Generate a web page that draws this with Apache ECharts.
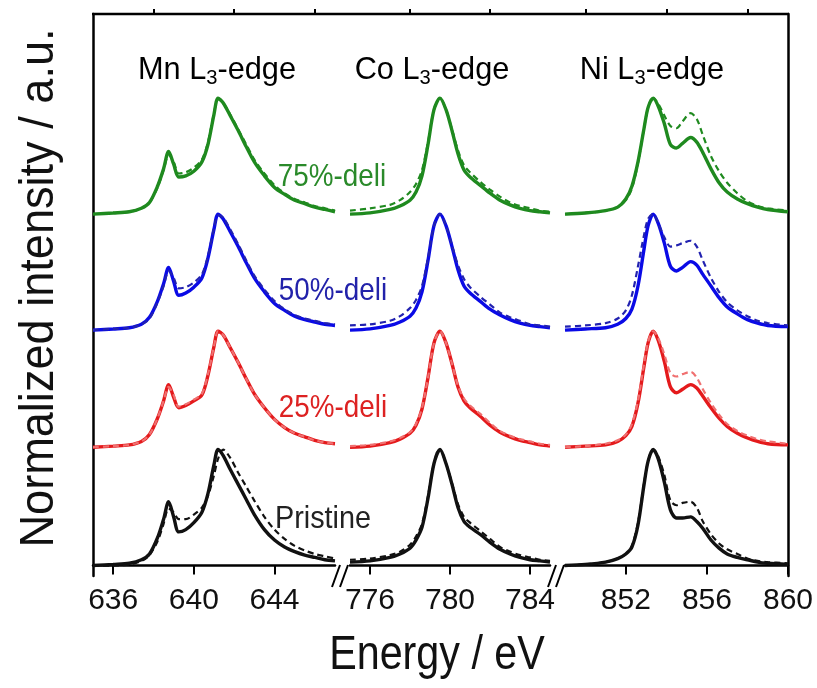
<!DOCTYPE html>
<html>
<head>
<meta charset="utf-8">
<script src="https://cdn.jsdelivr.net/npm/echarts@6/dist/echarts.min.js"></script>
<style>
  html, body { margin: 0; padding: 0; background: #fff; }
  #chart { width: 817px; height: 688px; }
</style>
</head>
<body>
<div id="chart"></div>
<script>
// energy grids (eV), one per edge
var mnEnergy = [635, 636, 636.8, 637.4, 637.8, 638.2, 638.5, 638.75, 639.0, 639.25, 639.6, 640.0, 640.4, 640.7, 641.0, 641.2, 641.45, 641.8, 642.2, 642.6, 643.0, 643.5, 644.0, 644.5, 645.0, 645.5, 646.0, 646.5, 647];
var coEnergy = [775, 776, 777, 777.5, 778, 778.3, 778.6, 778.9, 779.2, 779.5, 779.8, 780.1, 780.4, 780.7, 781.0, 781.5, 782, 782.5, 783, 783.5, 784, 784.5, 785];
var niEnergy = [849, 850, 851, 851.6, 852, 852.3, 852.6, 852.9, 853.1, 853.35, 853.6, 853.9, 854.2, 854.5, 854.8, 855.2, 855.5, 855.8, 856.2, 856.6, 857, 857.5, 858, 858.5, 859, 860];

// Mn L3-edge, normalized intensity (solid / dashed)
var mnPristine     = [0, 0.01, 0.02, 0.05, 0.10, 0.24, 0.40, 0.55, 0.42, 0.29, 0.31, 0.37, 0.46, 0.62, 0.87, 1.0, 0.95, 0.83, 0.70, 0.57, 0.44, 0.31, 0.22, 0.16, 0.12, 0.09, 0.07, 0.05, 0.04];
var mnPristineDash = [0, 0, 0.01, 0.04, 0.09, 0.21, 0.36, 0.49, 0.46, 0.40, 0.40, 0.44, 0.50, 0.60, 0.78, 0.92, 1.0, 0.93, 0.80, 0.68, 0.56, 0.42, 0.31, 0.23, 0.17, 0.13, 0.10, 0.08, 0.06];
var mn25           = [0, 0.01, 0.02, 0.05, 0.11, 0.25, 0.40, 0.54, 0.43, 0.34, 0.36, 0.40, 0.45, 0.62, 0.87, 1.0, 0.97, 0.86, 0.73, 0.59, 0.46, 0.34, 0.24, 0.17, 0.12, 0.09, 0.06, 0.04, 0.03];
var mn25Dash       = [0, 0.01, 0.02, 0.05, 0.11, 0.25, 0.40, 0.52, 0.45, 0.35, 0.37, 0.41, 0.46, 0.63, 0.87, 1.0, 0.97, 0.86, 0.73, 0.59, 0.46, 0.34, 0.24, 0.17, 0.12, 0.09, 0.06, 0.04, 0.03];
var mn50           = [0, 0.01, 0.02, 0.05, 0.11, 0.25, 0.40, 0.54, 0.42, 0.30, 0.32, 0.37, 0.45, 0.62, 0.87, 1.0, 0.96, 0.85, 0.72, 0.58, 0.45, 0.33, 0.23, 0.17, 0.12, 0.09, 0.07, 0.05, 0.04];
var mn50Dash       = [0, 0.01, 0.02, 0.05, 0.10, 0.24, 0.38, 0.51, 0.45, 0.36, 0.37, 0.41, 0.48, 0.64, 0.88, 0.99, 0.97, 0.87, 0.74, 0.60, 0.47, 0.35, 0.25, 0.18, 0.13, 0.10, 0.08, 0.06, 0.05];
var mn75           = [0, 0.01, 0.02, 0.05, 0.10, 0.24, 0.39, 0.54, 0.43, 0.32, 0.33, 0.37, 0.45, 0.60, 0.86, 1.0, 0.96, 0.85, 0.72, 0.58, 0.45, 0.33, 0.23, 0.17, 0.12, 0.09, 0.06, 0.04, 0.02];
var mn75Dash       = [0, 0.01, 0.02, 0.05, 0.10, 0.23, 0.38, 0.51, 0.45, 0.35, 0.36, 0.40, 0.47, 0.62, 0.87, 0.99, 0.96, 0.86, 0.73, 0.60, 0.47, 0.35, 0.25, 0.18, 0.13, 0.10, 0.07, 0.05, 0.03];

// Co L3-edge
var coPristine     = [0.03, 0.04, 0.07, 0.10, 0.15, 0.22, 0.33, 0.58, 0.88, 1.0, 0.88, 0.70, 0.50, 0.38, 0.33, 0.27, 0.20, 0.14, 0.10, 0.07, 0.05, 0.04, 0.03];
var coPristineDash = [0.05, 0.06, 0.09, 0.12, 0.18, 0.25, 0.36, 0.60, 0.88, 1.0, 0.88, 0.71, 0.53, 0.42, 0.37, 0.30, 0.23, 0.16, 0.12, 0.09, 0.07, 0.05, 0.04];
var co25           = [0.0, 0.01, 0.04, 0.07, 0.12, 0.19, 0.33, 0.60, 0.90, 1.0, 0.90, 0.72, 0.52, 0.40, 0.34, 0.27, 0.19, 0.13, 0.09, 0.06, 0.04, 0.02, 0.01];
var co25Dash       = [0.01, 0.02, 0.05, 0.08, 0.13, 0.20, 0.34, 0.60, 0.90, 1.0, 0.90, 0.72, 0.53, 0.42, 0.36, 0.29, 0.21, 0.14, 0.10, 0.07, 0.05, 0.03, 0.02];
var co50           = [0.0, 0.01, 0.04, 0.07, 0.12, 0.19, 0.33, 0.60, 0.90, 1.0, 0.90, 0.72, 0.52, 0.38, 0.32, 0.25, 0.18, 0.13, 0.09, 0.06, 0.04, 0.03, 0.02];
var co50Dash       = [0.04, 0.05, 0.08, 0.12, 0.19, 0.26, 0.38, 0.62, 0.90, 1.0, 0.90, 0.73, 0.56, 0.44, 0.37, 0.29, 0.22, 0.15, 0.11, 0.08, 0.05, 0.04, 0.03];
var co75           = [0.0, 0.01, 0.04, 0.07, 0.12, 0.19, 0.33, 0.60, 0.90, 1.0, 0.90, 0.72, 0.52, 0.38, 0.32, 0.25, 0.18, 0.12, 0.08, 0.05, 0.03, 0.02, 0.01];
var co75Dash       = [0.03, 0.05, 0.08, 0.12, 0.19, 0.26, 0.38, 0.62, 0.90, 1.0, 0.90, 0.73, 0.55, 0.42, 0.36, 0.28, 0.21, 0.15, 0.10, 0.07, 0.05, 0.03, 0.02];

// Ni L3-edge
var niPristine     = [0, 0.01, 0.03, 0.06, 0.10, 0.16, 0.35, 0.70, 0.90, 1.0, 0.92, 0.72, 0.48, 0.41, 0.41, 0.42, 0.38, 0.32, 0.22, 0.15, 0.10, 0.07, 0.05, 0.03, 0.02, 0.01];
var niPristineDash = [0, 0.01, 0.03, 0.06, 0.10, 0.17, 0.37, 0.71, 0.90, 1.0, 0.94, 0.78, 0.56, 0.52, 0.54, 0.55, 0.50, 0.38, 0.27, 0.19, 0.14, 0.10, 0.06, 0.04, 0.03, 0.02];
var ni25           = [0, 0.01, 0.02, 0.05, 0.10, 0.18, 0.38, 0.70, 0.90, 1.0, 0.92, 0.74, 0.52, 0.47, 0.50, 0.54, 0.51, 0.44, 0.34, 0.25, 0.18, 0.12, 0.08, 0.05, 0.03, 0.02];
var ni25Dash       = [0, 0.01, 0.03, 0.06, 0.11, 0.20, 0.40, 0.72, 0.91, 1.0, 0.94, 0.80, 0.64, 0.61, 0.63, 0.65, 0.60, 0.50, 0.38, 0.28, 0.20, 0.14, 0.10, 0.07, 0.05, 0.03];
var ni50           = [0, 0.01, 0.02, 0.05, 0.10, 0.18, 0.38, 0.70, 0.90, 1.0, 0.92, 0.75, 0.55, 0.51, 0.54, 0.59, 0.56, 0.48, 0.38, 0.28, 0.20, 0.14, 0.09, 0.06, 0.04, 0.03];
var ni50Dash       = [0.03, 0.04, 0.06, 0.10, 0.17, 0.30, 0.55, 0.82, 0.96, 1.0, 0.92, 0.80, 0.72, 0.73, 0.75, 0.77, 0.72, 0.60, 0.45, 0.33, 0.24, 0.17, 0.12, 0.08, 0.06, 0.04];
var ni75           = [0, 0.01, 0.03, 0.06, 0.13, 0.24, 0.45, 0.74, 0.92, 1.0, 0.93, 0.78, 0.60, 0.57, 0.61, 0.66, 0.62, 0.53, 0.39, 0.27, 0.19, 0.13, 0.09, 0.06, 0.04, 0.02];
var ni75Dash       = [0, 0.01, 0.03, 0.06, 0.12, 0.22, 0.44, 0.74, 0.92, 1.0, 0.95, 0.85, 0.76, 0.74, 0.80, 0.87, 0.82, 0.68, 0.50, 0.37, 0.27, 0.18, 0.11, 0.07, 0.05, 0.03];

// axis ticks / labels
var mnMajor = [636, 640, 644], mnMinor = [638, 642, 646];
var coMajor = [776, 780, 784], coMinor = [778, 782];
var niMajor = [852, 856, 860], niMinor = [850, 854, 858];

// stacking of the four samples (bottom to top)
var rowNames = ['Pristine', '25%-deli', '50%-deli', '75%-deli'];
var rowOffset = [0, 1.02, 2.03, 3.03];
var rowColor = ['#111111', '#e41a1c', '#0a0ae6', '#1f8a1f'];
var rowDashColor = ['#111111', '#f07070', '#2222b0', '#1f8a1f'];
var rowTextColor = ['#222222', '#dd2222', '#2222aa', '#2a8a2a'];

var FONT = "'Liberation Sans',Arial,sans-serif";

var edges = [
  { name: 'Mn', energy: mnEnergy, min: 635, max: 647, major: mnMajor, minor: mnMinor,
    solid: [mnPristine, mn25, mn50, mn75], dash: [mnPristineDash, mn25Dash, mn50Dash, mn75Dash] },
  { name: 'Co', energy: coEnergy, min: 775, max: 785, major: coMajor, minor: coMinor,
    solid: [coPristine, co25, co50, co75], dash: [coPristineDash, co25Dash, co50Dash, co75Dash] },
  { name: 'Ni', energy: niEnergy, min: 849, max: 860, major: niMajor, minor: niMinor,
    solid: [niPristine, ni25, ni50, ni75], dash: [niPristineDash, ni25Dash, ni50Dash, ni75Dash] }
];

var chart = echarts.init(document.getElementById('chart'));

var grids = [
  { left: 93, top: 14, width: 242, height: 562 },
  { left: 350, top: 14, width: 200, height: 562 },
  { left: 565, top: 14, width: 223, height: 562 }
];

var xAxes = [], yAxes = [], series = [];
edges.forEach(function (ed, e) {
  xAxes.push({
    type: 'value', gridIndex: e, min: ed.min, max: ed.max,
    axisLine: { show: true, lineStyle: { color: '#000', width: 2.5 } },
    axisTick: { show: true, customValues: ed.major, length: 9, lineStyle: { color: '#000', width: 2 } },
    axisLabel: { show: true, customValues: ed.major, fontSize: 30, fontFamily: FONT, color: '#111', margin: 10 },
    splitLine: { show: false }
  });
  yAxes.push({
    type: 'value', gridIndex: e, min: -0.09, max: 4.755,
    position: e === 2 ? 'right' : 'left',
    axisLine: { show: e !== 1, onZero: false, lineStyle: { color: '#000', width: 2.5 } },
    axisTick: { show: false }, axisLabel: { show: false }, splitLine: { show: false }
  });
});
// minor tick axes (no labels)
edges.forEach(function (ed, e) {
  xAxes.push({
    type: 'value', gridIndex: e, min: ed.min, max: ed.max,
    axisLine: { show: false },
    axisTick: { show: true, customValues: ed.minor, length: 5, lineStyle: { color: '#000', width: 2 } },
    axisLabel: { show: false }, splitLine: { show: false }
  });
});

edges.forEach(function (ed, e) {
  for (var r = 0; r < 4; r++) {
    (function (r) {
      series.push({
        type: 'line', name: ed.name + ' ' + rowNames[r], xAxisIndex: e, yAxisIndex: e,
        data: ed.energy.map(function (x, i) { return [x, ed.solid[r][i] + rowOffset[r]]; }),
        showSymbol: false, smooth: 0.3,
        lineStyle: { color: rowColor[r], width: 3.4 }, z: 3
      });
      series.push({
        type: 'line', name: ed.name + ' ' + rowNames[r] + ' (dash)', xAxisIndex: e, yAxisIndex: e,
        data: ed.energy.map(function (x, i) { return [x, ed.dash[r][i] + rowOffset[r]]; }),
        showSymbol: false, smooth: 0.3,
        lineStyle: { color: rowDashColor[r], width: 2.2, type: [6, 4] }, z: 4
      });
    })(r);
  }
});

var edgeRich = {
  b: { fontSize: 32, fontFamily: FONT, color: '#111', lineHeight: 38 },
  s: { fontSize: 21, fontFamily: FONT, color: '#111', verticalAlign: 'bottom' }
};
function edgeLabel(text, x) {
  return { type: 'text', x: x, y: 70, scaleX: 0.96,
    style: { text: '{b|' + text + ' L}{s|3}{b|-edge}', rich: edgeRich, align: 'center', verticalAlign: 'middle' } };
}
var labelY = [519, 408, 291, 177];
var labelX = [323, 333, 333, 332];
var labelScale = [0.9, 0.87, 0.87, 0.87];
var graphics = [
  // top frame line
  { type: 'line', shape: { x1: 92, y1: 14, x2: 789, y2: 14 }, style: { stroke: '#000', lineWidth: 2.5 } },
  // axis break marks
  { type: 'line', shape: { x1: 332, y1: 587, x2: 340, y2: 565 }, style: { stroke: '#000', lineWidth: 2 } },
  { type: 'line', shape: { x1: 340, y1: 587, x2: 348, y2: 565 }, style: { stroke: '#000', lineWidth: 2 } },
  { type: 'line', shape: { x1: 548, y1: 587, x2: 556, y2: 565 }, style: { stroke: '#000', lineWidth: 2 } },
  { type: 'line', shape: { x1: 556, y1: 587, x2: 564, y2: 565 }, style: { stroke: '#000', lineWidth: 2 } },
  // axis titles
  { type: 'text', x: 437, y: 656, scaleX: 0.86,
    style: { text: 'Energy / eV', fontSize: 48, fontFamily: FONT, fill: '#111', align: 'center', verticalAlign: 'middle' } },
  { type: 'text', x: 40, y: 288, rotation: Math.PI / 2, scaleX: 0.94,
    style: { text: 'Normalized intensity / a.u.', fontSize: 48, fontFamily: FONT, fill: '#111', align: 'center', verticalAlign: 'middle' } },
  edgeLabel('Mn', 217), edgeLabel('Co', 432), edgeLabel('Ni', 652)
];
rowNames.forEach(function (n, r) {
  graphics.push({ type: 'text', x: labelX[r], y: labelY[r], scaleX: labelScale[r],
    style: { text: n, fontSize: 32, fontFamily: FONT, fill: rowTextColor[r], align: 'center', verticalAlign: 'middle' } });
});

chart.setOption({
  animation: false,
  backgroundColor: '#fff',
  grid: grids,
  xAxis: xAxes,
  yAxis: yAxes,
  series: series,
  graphic: graphics
});
</script>
</body>
</html>
